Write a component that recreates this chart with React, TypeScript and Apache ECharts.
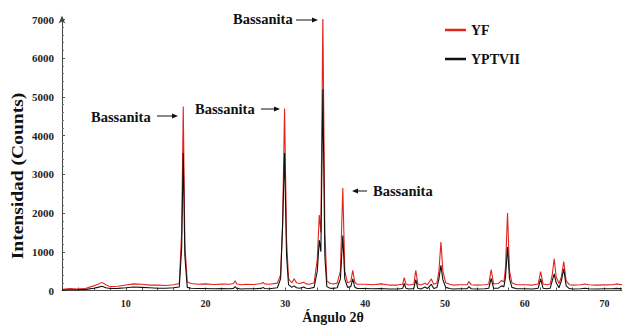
import React, { useEffect, useRef } from "react";
import * as echarts from "echarts";

// 2θ angles (degrees) shared by both patterns
const angles = [
  2, 3, 4, 5, 6, 6.5, 7, 7.5, 8, 9,
  10, 11, 12, 13, 14, 15, 16, 16.7, 17.0, 17.2,
  17.4, 17.7, 18.2, 19, 20, 21, 22, 23, 23.5, 23.7,
  23.9, 24.5, 25, 26, 27, 27.2, 27.4, 28, 29, 29.4,
  29.65, 29.9, 30.15, 30.4, 30.8, 31.1, 31.4, 31.8, 32.3, 32.6,
  33, 33.6, 34.0, 34.25, 34.45, 34.7, 34.95, 35.2, 35.6, 36,
  36.5, 36.9, 37.2, 37.45, 37.8, 38.2, 38.45, 38.7, 39, 40,
  41, 42, 43, 44, 44.7, 44.9, 45.1, 45.5, 46.1, 46.35,
  46.6, 47, 47.5, 47.8, 48.3, 48.6, 49, 49.25, 49.5, 49.75,
  50.1, 50.6, 51, 52, 52.8, 53.0, 53.3, 54, 55, 55.5,
  55.8, 56.1, 56.7, 57.1, 57.4, 57.6, 57.85, 58.1, 58.4, 59,
  60, 61, 61.7, 62.0, 62.3, 62.8, 63.2, 63.45, 63.7, 63.95,
  64.3, 64.6, 64.9, 65.2, 65.6, 66, 67, 67.6, 68, 69,
  70, 71, 71.5, 72.2,
];

// YF intensities (counts)
const yf = [
  30, 50, 40, 60, 120, 160, 210, 150, 100, 110,
  140, 170, 160, 140, 140, 130, 150, 180, 1500, 4750,
  1200, 220, 180, 160, 170, 155, 165, 160, 180, 250,
  170, 150, 160, 155, 180, 210, 170, 160, 190, 400,
  1700, 4700, 1300, 300, 200, 300, 200, 180, 215, 170,
  160, 200, 800, 1950, 1500, 7100, 1500, 250, 180, 170,
  190, 500, 2650, 500, 200, 230, 520, 220, 160, 160,
  150, 170, 140, 140, 160, 330, 170, 140, 160, 520,
  170, 140, 190, 150, 300, 160, 200, 500, 1250, 500,
  200, 160, 140, 150, 150, 230, 150, 140, 150, 170,
  540, 170, 180, 260, 220, 600, 2000, 500, 200, 150,
  150, 140, 170, 490, 170, 150, 170, 400, 820, 350,
  180, 350, 750, 250, 150, 140, 150, 170, 150, 140,
  145, 150, 170, 150,
];

// YPTVII intensities (counts)
const yptvii = [
  10, 20, 20, 30, 60, 80, 110, 70, 50, 55,
  70, 90, 80, 70, 60, 60, 70, 90, 1100, 3550,
  900, 80, 60, 50, 50, 45, 50, 45, 55, 100,
  55, 40, 45, 45, 55, 80, 50, 45, 70, 300,
  1650, 3550, 900, 150, 80, 120, 70, 60, 90, 60,
  50, 80, 500, 1300, 1000, 5200, 900, 100, 60, 55,
  70, 300, 1420, 300, 80, 100, 300, 90, 50, 50,
  45, 50, 40, 40, 50, 180, 60, 40, 50, 280,
  60, 40, 90, 50, 160, 50, 80, 300, 650, 280,
  80, 50, 40, 45, 45, 100, 45, 40, 45, 60,
  310, 60, 60, 120, 100, 350, 1120, 300, 80, 45,
  45, 40, 60, 300, 60, 45, 60, 250, 430, 200,
  70, 250, 560, 120, 50, 40, 45, 60, 45, 40,
  45, 45, 55, 45,
];

const seriesNames = ["YF", "YPTVII"];
const seriesColors = ["#e3241b", "#111111"];
const xLabels = [10, 20, 30, 40, 50, 60, 70];
const xTicks = [4, 6, 8, 10, 12, 14, 16, 18, 20, 22, 24, 26, 28, 30, 32, 34, 36, 38, 40, 42, 44, 46, 48, 50, 52, 54, 56, 58, 60, 62, 64, 66, 68, 70, 72];
const annotation = "Bassanita";
const yTitle = "Intensidad (Counts)";
const xTitle = "Ángulo 2θ";

const SERIF = '"Liberation Serif", "Times New Roman", serif';

function arrow(x1: number, x2: number, y: number) {
  const dir = x2 > x1 ? 1 : -1;
  return [
    { type: "line", shape: { x1, y1: y, x2: x2 - dir * 4, y2: y }, style: { stroke: "#111", lineWidth: 1 } },
    {
      type: "polygon",
      shape: { points: [[x2, y], [x2 - dir * 6, y - 2.5], [x2 - dir * 6, y + 2.5]] },
      style: { fill: "#111" },
    },
  ];
}

function label(x: number, y: number) {
  return {
    type: "text",
    style: {
      text: annotation,
      x,
      y,
      fontFamily: SERIF,
      fontWeight: "bold",
      fontSize: 14.5,
      fill: "#111",
      verticalAlign: "middle",
    },
  };
}

export default function App() {
  const ref = useRef<HTMLDivElement>(null);
  useEffect(() => {
    if (!ref.current) return;
    const chart = echarts.init(ref.current, null, { renderer: "svg" });
    const toPairs = (vals: number[]) => angles.map((a, i) => [a, vals[i]]);
    chart.setOption({
      animation: false,
      backgroundColor: "#ffffff",
      grid: { left: 62, right: 2, top: 19.5, bottom: 36.5, containLabel: false, outerBoundsMode: "none" },
      legend: {
        orient: "vertical",
        left: 440,
        top: 18,
        itemWidth: 21,
        itemHeight: 2.5,
        itemGap: 15,
        icon: "rect",
        data: seriesNames,
        textStyle: { fontFamily: SERIF, fontWeight: "bold", fontSize: 14, color: "#111" },
      },
      xAxis: {
        type: "value",
        min: 2,
        max: 72.2,
        axisLine: { lineStyle: { color: "#555", width: 1 } },
        axisTick: { show: true, inside: true, length: 3, customValues: xTicks, lineStyle: { color: "#555" } },
        axisLabel: {
          customValues: xLabels,
          fontFamily: SERIF,
          fontWeight: "bold",
          fontSize: 10,
          color: "#222",
          margin: 8,
        },
        splitLine: { show: false },
      },
      yAxis: {
        type: "value",
        min: 0,
        max: 7000,
        interval: 1000,
        axisLine: { show: true, symbol: ["none", "arrow"], symbolSize: [5, 8], symbolOffset: [0, 4], lineStyle: { color: "#444", width: 1 } },
        axisTick: { show: true, inside: true, length: 3, lineStyle: { color: "#555" } },
        minorTick: { show: true, splitNumber: 5, length: 2, lineStyle: { color: "#777" } },
        axisLabel: {
          fontFamily: SERIF,
          fontWeight: "bold",
          fontSize: 11,
          color: "#222",
          margin: 8,
          formatter: (v: number) => String(v),
        },
        splitLine: { show: false },
      },
      series: [
        {
          name: seriesNames[0],
          type: "line",
          data: toPairs(yf),
          showSymbol: false,
          symbol: "none",
          lineStyle: { color: seriesColors[0], width: 1.1 },
          itemStyle: { color: seriesColors[0] },
          z: 2,
        },
        {
          name: seriesNames[1],
          type: "line",
          data: toPairs(yptvii),
          showSymbol: false,
          symbol: "none",
          lineStyle: { color: seriesColors[1], width: 1.1 },
          itemStyle: { color: seriesColors[1] },
          z: 3,
        },
      ],
      graphic: [
        {
          type: "text",
          x: 17,
          y: 176,
          rotation: Math.PI / 2,
          scaleX: 1.15,
          style: {
            text: yTitle,
            fontFamily: SERIF,
            fontWeight: "bold",
            fontSize: 17,
            fill: "#111",
            align: "center",
            verticalAlign: "middle",
          },
        },
        {
          type: "text",
          x: 333,
          y: 317,
          style: {
            text: xTitle,
            fontFamily: SERIF,
            fontWeight: "bold",
            fontSize: 14,
            fill: "#111",
            align: "center",
            verticalAlign: "middle",
          },
        },
        label(91, 117),
        ...arrow(157, 178, 116),
        label(195, 109),
        ...arrow(261, 280, 109),
        label(233, 19),
        ...arrow(296, 318, 20),
        ...arrow(367, 352, 191),
        label(373, 191),
      ],
    });
    return () => chart.dispose();
  }, []);
  return <div ref={ref} style={{ position: "fixed", left: 0, top: 0, width: 624, height: 327 }} />;
}
